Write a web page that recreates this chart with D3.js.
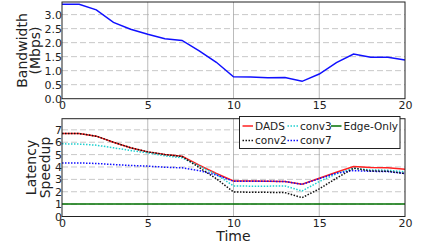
<!DOCTYPE html>
<html><head><meta charset="utf-8">
<script src="https://cdn.jsdelivr.net/npm/d3@7"></script>
<style>body{margin:0;background:#fff}svg{display:block}text{font-family:"DejaVu Sans",sans-serif;fill:#222}</style>
</head><body><svg id="c" width="422" height="246"></svg>
<script>
const time = d3.range(0, 21);
const bandwidth = [3.37,3.37,3.17,2.72,2.48,2.30,2.14,2.08,1.71,1.30,0.78,0.77,0.75,0.76,0.62,0.88,1.29,1.59,1.48,1.48,1.38];
const dads  = [6.70,6.70,6.49,6.00,5.55,5.22,5.00,4.87,4.14,3.47,2.87,2.86,2.85,2.83,2.60,3.09,3.58,4.03,3.95,3.93,3.82];
const conv2 = [6.70,6.70,6.49,6.00,5.55,5.22,5.00,4.85,3.95,3.05,1.98,1.96,1.95,1.93,1.52,2.23,3.09,3.90,3.68,3.65,3.47];
const conv3 = [5.87,5.85,5.76,5.55,5.33,5.14,4.90,4.74,4.08,3.40,2.47,2.45,2.45,2.47,2.06,2.82,3.45,3.90,3.76,3.74,3.60];
const conv7 = [4.33,4.33,4.28,4.20,4.12,4.07,3.98,3.93,3.71,3.35,2.85,2.85,2.85,2.82,2.60,3.05,3.50,3.71,3.65,3.63,3.47];
const edgeOnly = time.map(() => 1.0);
const xTicks = [0,5,10,15,20];
const bwTicks = [0,0.5,1.0,1.5,2.0,2.5,3.0];
const spTicks = [0,1,2,3,4,5,6,7];

const svg = d3.select("#c");
const L = 62, R = 405;
const x = d3.scaleLinear().domain([0,20]).range([L,R]);
const yTop = d3.scaleLinear().domain([0,3.45]).range([98.7,2]);
const yBot = d3.scaleLinear().domain([0,7.9]).range([216.5,118.7]);

function panel(y, ticks, fmt) {
  const g = svg.append("g");
  const [b, t] = y.range();
  // horizontal grid
  g.selectAll(".hg").data(ticks.filter(v => v > 0)).join("line")
    .attr("x1", L).attr("x2", R).attr("y1", d => y(d)).attr("y2", d => y(d))
    .attr("stroke", "#c8c8c8").attr("stroke-width", 1).attr("stroke-dasharray", "6,3");
  // vertical grid
  g.selectAll(".vg").data(xTicks.filter(v => v > 0 && v < 20)).join("line")
    .attr("x1", d => x(d)).attr("x2", d => x(d)).attr("y1", t).attr("y2", b)
    .attr("stroke", "#aaa").attr("stroke-width", 0.8);
  // y axis labels
  const ya = d3.axisLeft(y).tickValues(ticks).tickFormat(fmt).tickSize(0).tickPadding(0);
  const yg = g.append("g").attr("transform", `translate(${L},0)`).call(ya);
  yg.select(".domain").remove();
  yg.selectAll("text").attr("font-size", 11).attr("font-family", "DejaVu Sans").attr("fill", "#222");
  // x axis labels
  const xa = d3.axisBottom(x).tickValues(xTicks).tickFormat(d3.format("d")).tickSize(0).tickPadding(3);
  const xg = g.append("g").attr("transform", `translate(0,${b})`).call(xa);
  xg.select(".domain").remove();
  xg.selectAll("text").attr("font-size", 11).attr("font-family", "DejaVu Sans").attr("fill", "#222");
  return g;
}
function frame(y) {
  const [b, t] = y.range();
  svg.append("rect").attr("x", L).attr("y", t).attr("width", R - L).attr("height", b - t)
    .attr("fill", "none").attr("stroke", "#222").attr("stroke-width", 1);
}

panel(yTop, bwTicks, d3.format(".1f"));
panel(yBot, spTicks, d3.format("d"));

const lineTop = d3.line().x((d,i) => x(time[i])).y(d => yTop(d));
svg.append("path").datum(bandwidth).attr("d", lineTop).attr("fill","none")
  .attr("stroke","#1010ff").attr("stroke-width",1.5);

const lineBot = d3.line().x((d,i) => x(time[i])).y(d => yBot(d));
const series = [
  {name:"Edge-Only", data:edgeOnly, color:"#007000", dash:null},
  {name:"DADS", data:dads, color:"#ff2020", dash:null},
  {name:"conv3", data:conv3, color:"#20d0d0", dash:"1.5,1.5"},
  {name:"conv7", data:conv7, color:"#1010ff", dash:"1.5,1.5"},
  {name:"conv2", data:conv2, color:"#111", dash:"1.5,1.5"}
];
series.forEach(s => {
  svg.append("path").datum(s.data).attr("d", lineBot).attr("fill","none")
    .attr("stroke", s.color).attr("stroke-width", 1.5)
    .attr("stroke-dasharray", s.dash);
});

frame(yTop);
frame(yBot);

// legend
const lg = svg.append("g");
lg.append("rect").attr("x", 239.5).attr("y", 116.5).attr("width", 160.5).attr("height", 32)
  .attr("fill", "#fff").attr("stroke", "#222").attr("stroke-width", 1);
const legendItems = [
  {s:series[1], x:242.5, y:126},
  {s:series[2], x:287.5, y:126},
  {s:series[0], x:331, y:126},
  {s:series[4], x:242.5, y:140.5},
  {s:series[3], x:287.5, y:140.5}
];
legendItems.forEach(it => {
  lg.append("line").attr("x1", it.x).attr("x2", it.x + 10.5).attr("y1", it.y).attr("y2", it.y)
    .attr("stroke", it.s.color).attr("stroke-width", 1.5).attr("stroke-dasharray", it.s.dash);
  lg.append("text").attr("x", it.x + 12.5).attr("y", it.y).attr("dy", "0.36em")
    .attr("font-size", 10.5).text(it.s.name);
});

// axis titles
function vlabel(txt, cx, cy) {
  svg.append("text").attr("transform", `translate(${cx},${cy}) rotate(-90)`)
    .attr("text-anchor", "middle").attr("font-size", 14).text(txt);
}
vlabel("Bandwidth", 26.5, 50.5);
vlabel("(Mbps)", 40, 50.5);
vlabel("Latency", 36, 167.5);
vlabel("Speedup", 50, 167.5);
svg.append("text").attr("x", (L + R) / 2).attr("y", 241).attr("text-anchor", "middle")
  .attr("font-size", 14).text("Time");
</script></body></html>
